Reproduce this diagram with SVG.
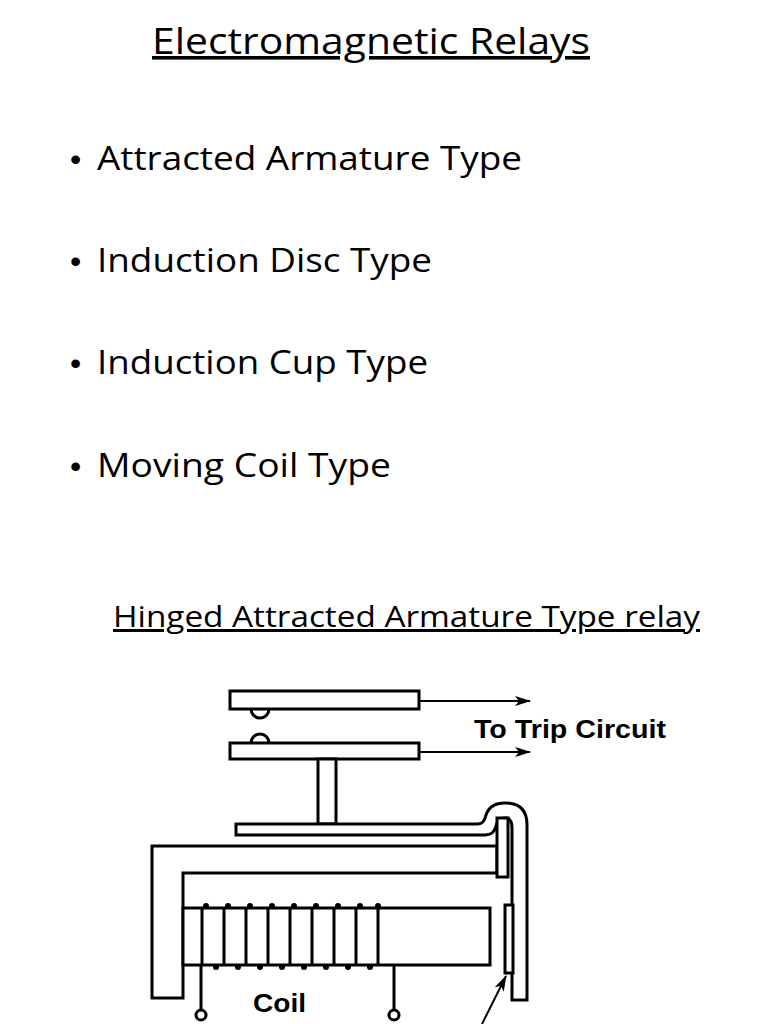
<svg xmlns="http://www.w3.org/2000/svg" width="768" height="1024" viewBox="0 0 768 1024">
<style>
.t{font-family:"Open Sans","Liberation Sans",sans-serif;fill:#000}
.b{font-size:32px}
.d{font-family:"Liberation Sans",Arial,sans-serif;font-size:32px}
.s{fill:#fff;stroke:#000;stroke-width:3}
.l{fill:none;stroke:#000;stroke-width:3}
.lb{font-family:"Liberation Sans",Arial,sans-serif;font-weight:bold;font-size:26px;fill:#000}
</style>
<defs><marker id="a" markerWidth="16" markerHeight="10" refX="15" refY="5" orient="auto" markerUnits="userSpaceOnUse"><path d="M0,0L16,5L0,10L4,5Z" fill="#000" stroke="none"/></marker></defs>
<rect width="768" height="1024" fill="#fff"/>
<g id="title"><text class="t" x="152" y="54" font-size="36" textLength="438" lengthAdjust="spacingAndGlyphs" text-decoration="underline">Electromagnetic Relays</text></g>
<g id="bullets" class="t b">
<text class="d" x="70" y="170">•</text><text x="97" y="170" textLength="425" lengthAdjust="spacingAndGlyphs">Attracted Armature Type</text>
<text class="d" x="70" y="272">•</text><text x="97" y="272" textLength="335" lengthAdjust="spacingAndGlyphs">Induction Disc Type</text>
<text class="d" x="70" y="374">•</text><text x="97" y="374" textLength="331" lengthAdjust="spacingAndGlyphs">Induction Cup Type</text>
<text class="d" x="70" y="477">•</text><text x="97" y="477" textLength="294" lengthAdjust="spacingAndGlyphs">Moving Coil Type</text>
</g>
<g id="subtitle"><text class="t" x="113" y="627" font-size="30" textLength="587" lengthAdjust="spacingAndGlyphs" text-decoration="underline">Hinged Attracted Armature Type relay</text></g>
<g id="diagram">
<rect class="s" x="230" y="691" width="189" height="18"/>
<path class="l" d="M251,709 A9,9 0 0 0 269,709"/>
<path class="l" d="M251,743 A9,9 0 0 1 269,743"/>
<rect class="s" x="230" y="743" width="189" height="16"/>
<rect class="s" x="318" y="759" width="18" height="65"/>
<path class="s" d="M152,846 H497 V873 H183 V998 H152 Z"/>
<rect class="s" x="183" y="908" width="307" height="57"/>
<path class="s" d="M236,824 H478 Q484,824 486,815 Q490,803 505,803 Q527,803 527,825 V1000 H512 V828 Q512,818 505,818 Q498,818 496,826 Q494,835 485,835 H236 Z"/>
<rect class="s" x="497" y="818" width="11" height="59"/>
<rect class="s" x="505" y="905" width="8" height="68"/>
<g class="l">
<path d="M202,908 V965 M224,908 V965 M246,908 V965 M268,908 V965 M290,908 V965 M312,908 V965 M334,908 V965 M356,908 V965 M378,908 V965"/>
<path d="M201,965 V1010 M394,965 V1010"/>
</g>
<g fill="#000">
<circle cx="206" cy="906" r="3"/><circle cx="228" cy="906" r="3"/><circle cx="250" cy="906" r="3"/><circle cx="272" cy="906" r="3"/><circle cx="294" cy="906" r="3"/><circle cx="316" cy="906" r="3"/><circle cx="338" cy="906" r="3"/><circle cx="360" cy="906" r="3"/><circle cx="378" cy="906" r="3"/>
<circle cx="216" cy="967" r="3"/><circle cx="238" cy="967" r="3"/><circle cx="260" cy="967" r="3"/><circle cx="282" cy="967" r="3"/><circle cx="304" cy="967" r="3"/><circle cx="326" cy="967" r="3"/><circle cx="348" cy="967" r="3"/><circle cx="370" cy="967" r="3"/>
</g>
<circle class="s" cx="201" cy="1015" r="5"/>
<circle class="s" cx="394" cy="1015" r="5"/>
<text class="lb" x="253" y="1012" textLength="53" lengthAdjust="spacingAndGlyphs">Coil</text>
<text class="lb" x="474" y="738" textLength="192" lengthAdjust="spacingAndGlyphs">To Trip Circuit</text>
</g>
<g id="connectors" class="l">
<line x1="419" y1="701" x2="530" y2="701" marker-end="url(#a)" stroke-width="2"/>
<line x1="419" y1="752" x2="530" y2="752" marker-end="url(#a)" stroke-width="2"/>
<line x1="482" y1="1024" x2="506" y2="976" marker-end="url(#a)" stroke-width="2"/>
</g>
</svg>
